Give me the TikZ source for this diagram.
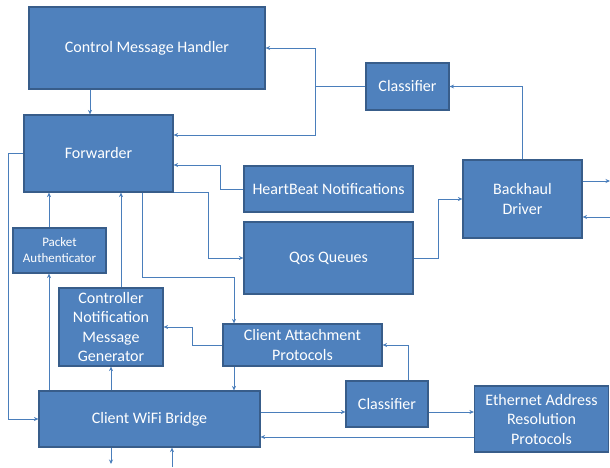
\documentclass[tikz,border=0pt]{standalone}
\usepackage{fontspec}
\setmainfont{Carlito}
\usetikzlibrary{arrows.meta}
\definecolor{boxfill}{HTML}{4F81BD}
\definecolor{boxline}{HTML}{385D8A}
\definecolor{conn}{HTML}{4A7EBB}
\tikzset{
  blk/.style={draw=boxline, line width=1.2pt, fill=boxfill, text=white, align=center,
    inner sep=0pt, font=\fontsize{16}{19.5}\selectfont},
  arr/.style={draw=conn, line width=0.9pt, -{Stealth[length=4.5pt,width=4pt]}},
  ln/.style={draw=conn, line width=0.9pt},
}
\begin{document}
\begin{tikzpicture}[x=1pt,y=-1pt]
\useasboundingbox (0,0) rectangle (610,468);
% helper coordinates
\coordinate (x8) at (8,0);
\coordinate (x49) at (49,0);
\coordinate (x90) at (90,0);
\coordinate (x121) at (121,0);
\coordinate (x142) at (142,0);
\coordinate (x172) at (172,0);
\coordinate (x192) at (192,0);
\coordinate (x208) at (208,0);
\coordinate (x220) at (220,0);
\coordinate (x234) at (234,0);
\coordinate (x315) at (315,0);
\coordinate (x408) at (408,0);
\coordinate (x438) at (438,0);
\coordinate (y135) at (0,135);
\coordinate (y165) at (0,165);
\coordinate (y181) at (0,181);
\coordinate (y217) at (0,217);
\coordinate (y277) at (0,277);
\coordinate (y412) at (0,412);
\coordinate (y437) at (0,437);

% boxes
\node[blk, minimum width=236pt, minimum height=82pt] (cmh) at (147,48) {Control Message Handler};
\node[blk, minimum width=149pt, minimum height=77pt] (fwd) at (98.5,153.5) {Forwarder};
\node[blk, minimum width=169pt, minimum height=46pt] (hb) at (328.5,189) {HeartBeat Notifications};
\node[blk, minimum width=169pt, minimum height=72pt] (qos) at (328.5,258) {Qos Queues};
\node[blk, minimum width=83pt, minimum height=47pt] (cls1) at (407.5,86.5) {Classifier};
\node[blk, minimum width=119pt, minimum height=78pt] (bd) at (522.5,199) {Backhaul\\Driver};
\node[blk, minimum width=93pt, minimum height=45pt, font=\fontsize{13}{16}\selectfont] (pa) at (59.5,250.5) {Packet\\Authenticator};
\node[blk, minimum width=104pt, minimum height=78pt] (cnmg) at (111,327) {Controller\\Notification\\Message\\Generator};
\node[blk, minimum width=159pt, minimum height=42pt] (cap) at (302.5,345) {Client Attachment\\Protocols};
\node[blk, minimum width=221pt, minimum height=56pt] (cwb) at (149.5,419) {Client WiFi Bridge};
\node[blk, minimum width=82pt, minimum height=46pt] (cls2) at (387,404) {Classifier};
\node[blk, minimum width=134pt, minimum height=66pt] (earp) at (541.5,419) {Ethernet Address\\Resolution\\Protocols};

\coordinate (bdout) at (610,181);
\coordinate (bdin) at (610,217);
\coordinate (cwbout) at (111,464);
\coordinate (cwbin) at (172,467);

% connectors
\draw[arr] (cmh.south -| x90) -- (fwd.north -| x90);
\draw[arr] (cls1.west) -- (cls1.west -| x315) |- (cmh.east);
\draw[arr] (cls1.west -| x315) |- (fwd.east |- y135);
\draw[arr] (bd.north) |- (cls1.east);
\draw[arr] (hb.west) -| (x220 |- y165) -- (fwd.east |- y165);
\draw[arr] (qos.east) -| (x438 |- bd.west) -- (bd.west);
\draw[arr] (bd.east |- y181) -- (bdout);
\draw[arr] (bdin) -- (bd.east |- y217);
\draw[arr] (fwd.south -| x142) |- (x234 |- y277) -- (cap.north -| x234);
\draw[arr] (fwd.south east) -| (x208 |- qos.west) -- (qos.west);
\draw[arr] (cnmg.north -| x121) -- (fwd.south -| x121);
\draw[arr] (pa.north -| x49) -- (fwd.south -| x49);
\draw[arr] (cwb.north -| x49) -- (pa.south -| x49);
\draw[arr] (cwb.north -| cnmg.south) -- (cnmg.south);
\draw[arr] (cap.west) -| (x192 |- cnmg.east) -- (cnmg.east);
\draw[arr] (cap.south -| x234) -- (cwb.north -| x234);
\draw[arr] (fwd.west) -| (x8 |- cwb.west) -- (cwb.west);
\draw[arr] (cwb.east |- y412) -- (cls2.west |- y412);
\draw[arr] (cls2.east |- y412) -- (earp.west |- y412);
\draw[arr] (cls2.north -| x408) |- (cap.east);
\draw[arr] (earp.west |- y437) -- (cwb.east |- y437);
\draw[arr] (cwb.south -| cwbout) -- (cwbout);
\draw[arr] (cwbin) -- (cwb.south -| cwbin);
\end{tikzpicture}
\end{document}
